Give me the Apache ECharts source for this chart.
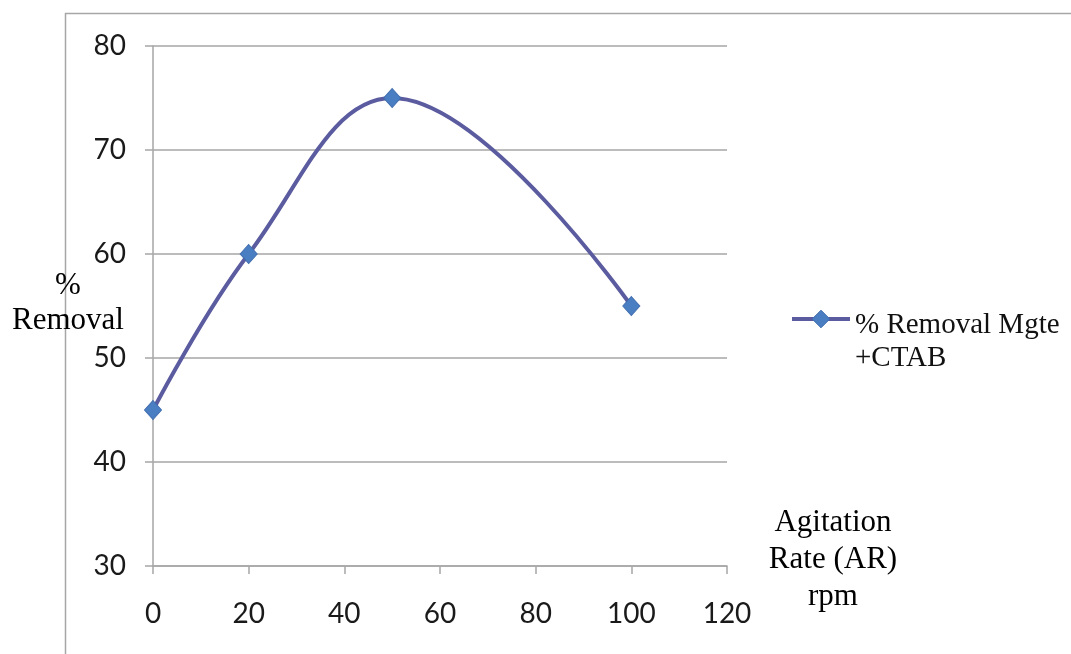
<!DOCTYPE html>
<html>
<head>
<meta charset="utf-8">
<script src="https://cdn.jsdelivr.net/npm/echarts@6/dist/echarts.min.js"></script>
<style>
html,body{margin:0;padding:0;background:#fff;}
#chart{width:1071px;height:654px;}
</style>
</head>
<body>
<div id="chart"></div>
<script>
var xValues = [0, 20, 50, 100];
var yValues = [45, 60, 75, 55];
var seriesName = '% Removal Mgte +CTAB';
var legendLines = ['% Removal Mgte', '+CTAB'];
var xAxisTitleLines = ['Agitation', 'Rate (AR)', 'rpm'];
var yAxisTitleLines = ['%', 'Removal'];

var points = xValues.map(function (x, i) { return [x, yValues[i]]; });

var chart = echarts.init(document.getElementById('chart'), null, {renderer: 'canvas'});
chart.setOption({
  animation: false,
  backgroundColor: '#ffffff',
  graphic: [{
    type: 'rect',
    silent: true,
    shape: {x: 65.5, y: 13.5, width: 1100, height: 700},
    style: {fill: 'none', stroke: '#a6a6a6', lineWidth: 1.5}
  }],
  grid: {left: 153, right: 344, top: 46, bottom: 88, containLabel: false, outerBoundsMode: 'none'},
  legend: {
    left: 790,
    top: 281,
    padding: 0,
    itemWidth: 58,
    itemHeight: 22,
    itemGap: 0,
    lineStyle: {width: 4, color: '#5b5ba0'},
    itemStyle: {color: '#4a7ec2', borderColor: '#3f6cad', borderWidth: 1},
    formatter: function () {
      return '{pad| }\n' + legendLines.map(function (l) { return '{t|' + l + '}'; }).join('\n');
    },
    textStyle: {
      fontFamily: 'Liberation Serif',
      fontSize: 29,
      color: '#111',
      rich: {
        pad: {fontSize: 10, lineHeight: 46},
        t: {fontFamily: 'Liberation Serif', fontSize: 29, color: '#111', lineHeight: 33}
      }
    }
  },
  xAxis: {
    type: 'value',
    min: 0, max: 120, interval: 20,
    name: xAxisTitleLines.map(function (l) { return '{t|' + l + '}'; }).join('\n') + '\n{s| }',
    nameLocation: 'end',
    nameGap: 106,
    nameMoveOverlap: false,
    nameTextStyle: {
      fontFamily: 'Liberation Serif', fontSize: 31, color: '#000',
      align: 'center', verticalAlign: 'middle',
      rich: {
        t: {fontFamily: 'Liberation Serif', fontSize: 31, color: '#000', lineHeight: 37, align: 'center'},
        s: {fontSize: 6, lineHeight: 12}
      }
    },
    axisLine: {show: true, lineStyle: {color: '#a6a6a6', width: 1.5}},
    axisTick: {show: true, inside: false, length: 8, lineStyle: {color: '#a6a6a6', width: 1.5}},
    axisLabel: {fontFamily: 'Lato', fontSize: 28, color: '#1a1a1a', margin: 34},
    splitLine: {show: false}
  },
  yAxis: {
    type: 'value',
    min: 30, max: 80, interval: 10,
    name: yAxisTitleLines.map(function (l) { return '{t|' + l + '}'; }).join('\n') + '\n{s| }',
    nameLocation: 'middle',
    nameGap: 85,
    nameMoveOverlap: false,
    nameRotate: 0,
    nameTextStyle: {
      fontFamily: 'Liberation Serif', fontSize: 31, color: '#000',
      align: 'center', verticalAlign: 'middle',
      rich: {
        t: {fontFamily: 'Liberation Serif', fontSize: 31, color: '#000', lineHeight: 35, align: 'center'},
        s: {fontSize: 6, lineHeight: 6}
      }
    },
    axisLine: {show: true, lineStyle: {color: '#a6a6a6', width: 1.5}},
    axisTick: {show: true, inside: false, length: 8, lineStyle: {color: '#a6a6a6', width: 1.5}},
    axisLabel: {fontFamily: 'Lato', fontSize: 28, color: '#1a1a1a', margin: 27},
    splitLine: {show: true, lineStyle: {color: '#a6a6a6', width: 1.5}}
  },
  series: [{
    name: seriesName,
    type: 'line',
    data: points,
    smooth: 0.4,
    symbol: 'diamond',
    symbolSize: [17, 19],
    lineStyle: {color: '#5b5ba0', width: 4},
    itemStyle: {color: '#4a7ec2', borderColor: '#3f6cad', borderWidth: 1},
    z: 3
  }]
});
</script>
</body>
</html>
